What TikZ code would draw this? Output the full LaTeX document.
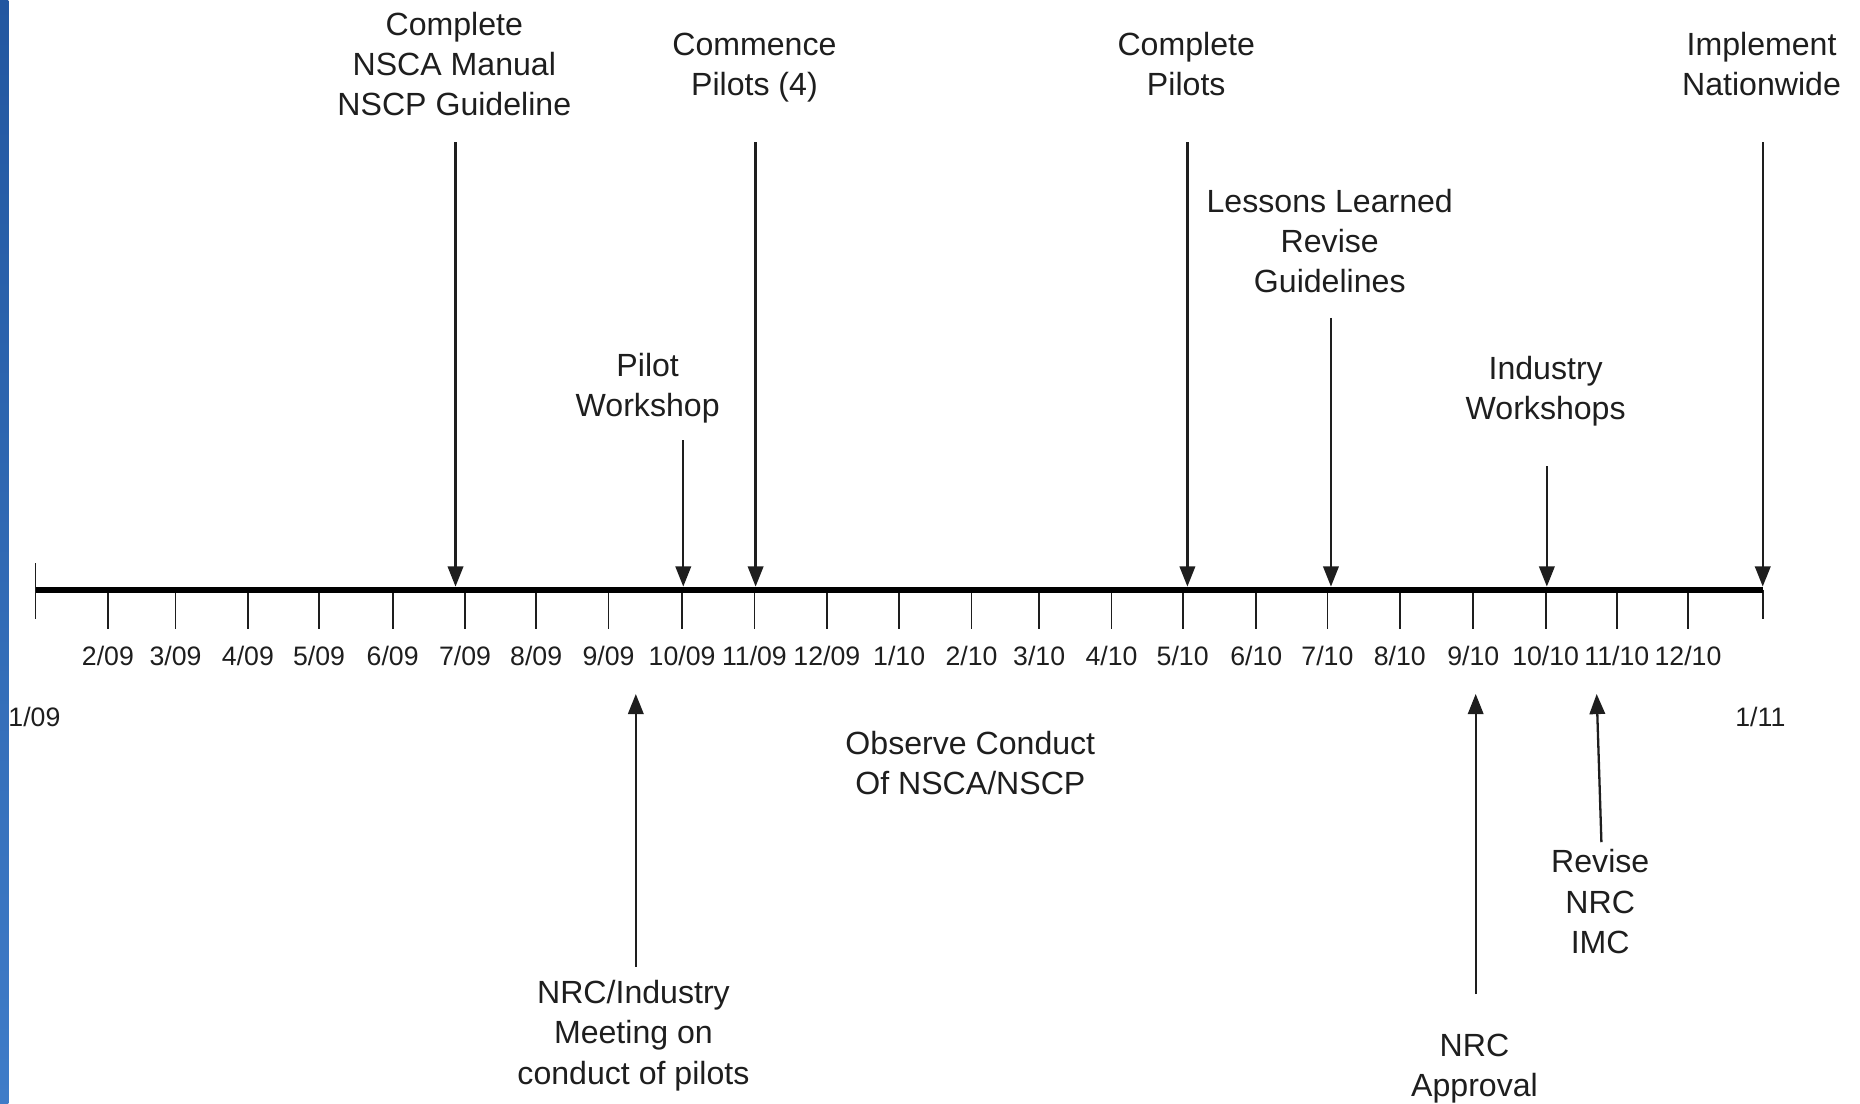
\documentclass[tikz,border=0pt]{standalone}
\usepackage{fontspec}
\setmainfont{Liberation Sans}
\usepackage{tikz}
\usetikzlibrary{arrows.meta, positioning, calc}
\definecolor{stripTop}{HTML}{2257A0}
\definecolor{stripBot}{HTML}{3F7CC8}
\definecolor{ink}{HTML}{1E1E1E}

\begin{document}
\begin{tikzpicture}[x=0.02cm, y=-0.02cm, >={Triangle[length=0.34cm, width=0.26cm]},
  event/.style={align=center, text=ink, font=\fontsize{15.4}{19.3}\selectfont, inner sep=0pt},
  month/.style={text=ink, font=\fontsize{12.8}{15}\selectfont, inner sep=0pt},
  evarrow/.style={->, draw=ink, line width=1.1pt},
  monthtick/.style={draw=ink, line width=0.85pt}]
% Frame and side strip
\useasboundingbox (0,0) rectangle (1568,930);
\shade[top color=stripTop, bottom color=stripBot] (0,0) rectangle (7,930);

% Time axis
\coordinate (start) at (30,497);
\coordinate (finish) at (1486,497);
\draw[monthtick] (30,475) -- (30,522);
\draw[monthtick] (1486,497) -- (1486,522);
\foreach \x/\lbl in {91/{2/09}, 148/{3/09}, 209/{4/09}, 269/{5/09}, 331/{6/09},
    392/{7/09}, 452/{8/09}, 513/{9/09}, 575/{10/09}, 636/{11/09}, 697/{12/09},
    758/{1/10}, 819/{2/10}, 876/{3/10}, 937/{4/10}, 997/{5/10}, 1059/{6/10},
    1119/{7/10}, 1180/{8/10}, 1242/{9/10}, 1303/{10/10}, 1363/{11/10}, 1423/{12/10}} {
  \draw[monthtick] (\x,497) -- (\x,530);
  \node[month] (m\x) at (\x,553) {\lbl};
}
\draw[line width=2.85pt] (start) -- (finish);
\node[month] (first) at (29,604) {1/09};
\node[month] (last) at (1484,604) {1/11};

% Milestones above the axis
\node[event] (nsca) at (383,54) {Complete\\NSCA Manual\\NSCP Guideline};
\node[event] (commence) at (636,57) {Commence\\Pilots (4)};
\node[event] (workshop) at (546,327) {Pilot\\Workshop};
\node[event] (pilots) at (1000,54) {Complete\\Pilots};
\node[event] (lessons) at (1121,203) {Lessons Learned\\Revise\\Guidelines};
\node[event] (industry) at (1303,330) {Industry\\Workshops};
\node[event] (implement) at (1485,54) {Implement\\Nationwide};

\coordinate (nscaA) at (384,120);
\coordinate (commenceA) at (637,120);
\coordinate (workshopA) at (576,371);
\coordinate (pilotsA) at (1001,120);
\coordinate (lessonsA) at (1122,268);
\coordinate (industryA) at (1304,393);
\coordinate (implementA) at (1486,120);
\foreach \a in {nscaA, commenceA, workshopA, pilotsA, lessonsA, industryA, implementA}
  \draw[evarrow] (\a) -- ([yshift=0.05cm]\a |- start);

% Milestones below the axis
\node[event] (meeting) at (534,873) {NRC/Industry\\Meeting on\\conduct of pilots};
\node[event] (observe) at (818,643) {Observe Conduct\\Of NSCA/NSCP};
\node[event] (approval) at (1243,901) {NRC\\Approval};
\node[event] (revise) at (1349,760) {Revise\\NRC\\IMC};

\coordinate (meetingA) at (536,815);
\coordinate (approvalA) at (1244,838);
\coordinate (reviseA) at (1350,710);
\draw[evarrow] (meetingA) -- (536,585);
\draw[evarrow] (approvalA) -- (1244,585);
\draw[evarrow] (reviseA) -- (1346,585);
\end{tikzpicture}
\end{document}
